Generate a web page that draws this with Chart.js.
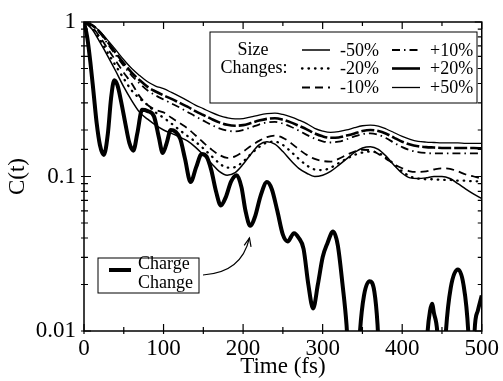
<!DOCTYPE html>
<html>
<head>
<meta charset="utf-8">
<script src="https://cdn.jsdelivr.net/npm/chart.js@4.4.0/dist/chart.umd.min.js"></script>
<style>
  html, body { margin: 0; padding: 0; background: #fff; }
  #grafico { display: block; }
</style>
</head>
<body>
<canvas id="grafico" width="503" height="381"></canvas>
<script>
// time grid (fs) for the size-change curves
const tempos = [0, 10, 20, 30, 40, 50, 60, 70, 80, 90, 100, 110, 120, 130, 140, 150, 160, 170, 180, 190, 200,
  210, 220, 230, 240, 250, 260, 270, 280, 290, 300, 310, 320, 330, 340, 350, 360, 370, 380, 390, 400,
  410, 420, 430, 440, 450, 460, 470, 480, 490, 500];

const menos50 = [1, 0.9, 0.74, 0.6, 0.48, 0.38, 0.31, 0.26, 0.235, 0.215, 0.2, 0.19, 0.18, 0.17, 0.155, 0.138, 0.122, 0.108, 0.102, 0.106, 0.12,
  0.14, 0.16, 0.168, 0.162, 0.145, 0.127, 0.113, 0.105, 0.1, 0.102, 0.108, 0.118, 0.13, 0.143, 0.153, 0.156, 0.15, 0.135, 0.118, 0.105,
  0.098, 0.097, 0.098, 0.1, 0.1, 0.097, 0.09, 0.083, 0.077, 0.072];
const menos20 = [1, 0.92, 0.77, 0.63, 0.52, 0.43, 0.36, 0.32, 0.29, 0.26, 0.24, 0.22, 0.2, 0.183, 0.168, 0.152, 0.136, 0.122, 0.114, 0.115, 0.125,
  0.14, 0.155, 0.166, 0.168, 0.16, 0.145, 0.13, 0.118, 0.111, 0.11, 0.114, 0.122, 0.13, 0.138, 0.143, 0.145, 0.142, 0.132, 0.12, 0.108,
  0.1, 0.097, 0.096, 0.096, 0.095, 0.095, 0.094, 0.094, 0.093, 0.093];
const menos10 = [1, 0.93, 0.8, 0.67, 0.56, 0.47, 0.4, 0.33, 0.29, 0.27, 0.26, 0.24, 0.222, 0.205, 0.185, 0.166, 0.15, 0.138, 0.132, 0.135, 0.145,
  0.158, 0.17, 0.18, 0.184, 0.178, 0.165, 0.15, 0.138, 0.13, 0.126, 0.125, 0.13, 0.138, 0.145, 0.149, 0.148, 0.14, 0.13, 0.12, 0.113,
  0.108, 0.107, 0.108, 0.111, 0.113, 0.112, 0.108, 0.103, 0.1, 0.097];
const mais10 = [1, 0.95, 0.85, 0.72, 0.61, 0.52, 0.45, 0.4, 0.36, 0.335, 0.315, 0.297, 0.28, 0.262, 0.245, 0.23, 0.216, 0.205, 0.198, 0.196, 0.2,
  0.208, 0.217, 0.224, 0.226, 0.22, 0.21, 0.198, 0.186, 0.176, 0.169, 0.166, 0.168, 0.174, 0.182, 0.188, 0.19, 0.186, 0.177, 0.165, 0.155,
  0.148, 0.144, 0.142, 0.141, 0.141, 0.141, 0.141, 0.141, 0.141, 0.141];
const mais20 = [1, 0.955, 0.86, 0.74, 0.63, 0.54, 0.47, 0.42, 0.38, 0.355, 0.335, 0.318, 0.3, 0.283, 0.265, 0.25, 0.236, 0.224, 0.216, 0.213, 0.215,
  0.222, 0.23, 0.236, 0.238, 0.233, 0.224, 0.213, 0.202, 0.19, 0.182, 0.178, 0.179, 0.184, 0.19, 0.197, 0.2, 0.197, 0.189, 0.178, 0.168,
  0.161, 0.157, 0.155, 0.154, 0.153, 0.153, 0.153, 0.153, 0.153, 0.152];
const mais50 = [1, 0.96, 0.87, 0.76, 0.66, 0.57, 0.5, 0.45, 0.41, 0.385, 0.37, 0.35, 0.33, 0.31, 0.29, 0.275, 0.26, 0.248, 0.24, 0.236, 0.237,
  0.243, 0.25, 0.255, 0.257, 0.252, 0.243, 0.232, 0.22, 0.205, 0.197, 0.193, 0.195, 0.2, 0.207, 0.213, 0.215, 0.212, 0.203, 0.192, 0.182,
  0.174, 0.169, 0.167, 0.166, 0.165, 0.165, 0.165, 0.164, 0.164, 0.164];

// charge change curve, own time samples
const tempoCarga = [0, 4, 8, 12, 16, 20, 25, 30, 34, 38, 42, 47, 52, 57, 62, 67, 73, 80, 88, 94, 99, 104, 109, 115, 121, 127, 134,
  141, 148, 154, 160, 166, 172, 178, 185, 192, 198, 203, 209, 215, 222, 230, 236, 243, 250, 256, 264, 270, 276, 282, 288,
  294, 300, 306, 313, 319, 325, 330, 335, 343, 347, 352, 359, 365, 369, 373, 428, 432, 435, 437.5, 440, 444, 448, 451,
  455, 461, 470, 477, 483, 486, 489, 491, 495, 500];
const carga = [1, 0.8, 0.55, 0.35, 0.22, 0.16, 0.138, 0.19, 0.32, 0.42, 0.39, 0.3, 0.22, 0.165, 0.147, 0.19, 0.27, 0.265, 0.245, 0.18, 0.142, 0.165, 0.2, 0.195, 0.175, 0.13, 0.092,
  0.115, 0.14, 0.135, 0.11, 0.08, 0.065, 0.073, 0.093, 0.102, 0.085, 0.06, 0.048, 0.055, 0.075, 0.092, 0.083, 0.06, 0.042, 0.038, 0.043, 0.04, 0.034, 0.02, 0.014,
  0.02, 0.03, 0.037, 0.044, 0.036, 0.02, 0.011, 0.004, 0.004, 0.01, 0.017, 0.021, 0.018, 0.011, 0.004, 0.004, 0.01, 0.0135, 0.015, 0.013, 0.01, 0.004, 0.004,
  0.01, 0.019, 0.025, 0.02, 0.01, 0.004, 0.004, 0.01, 0.0135, 0.017];

const ticksX = [0, 100, 200, 300, 400, 500];
const ticksXMenores = [50, 150, 250, 350, 450];
const ticksY = [1, 0.1, 0.01];

const fonte = 'Liberation Serif, Times New Roman, serif';

function pontos(xs, ys) {
  return xs.map((x, i) => ({ x: x, y: ys[i] }));
}

const series = [
  { label: '-50%', data: menos50, width: 1.5, dash: [], col: 0, row: 0 },
  { label: '-20%', data: menos20, width: 2.3, dash: [0.5, 6], cap: 'round', col: 0, row: 1 },
  { label: '-10%', data: menos10, width: 1.8, dash: [8, 5], col: 0, row: 2 },
  { label: '+10%', data: mais10, width: 1.8, dash: [8, 4, 1.5, 4], col: 1, row: 0 },
  { label: '+20%', data: mais20, width: 2.6, dash: [13, 3], legendDash: [], col: 1, row: 1 },
  { label: '+50%', data: mais50, width: 1.3, dash: [], col: 1, row: 2 }
];

const datasets = series.map(s => ({
  label: s.label,
  data: pontos(tempos, s.data),
  borderColor: '#000',
  borderWidth: s.width,
  borderDash: s.dash,
  borderCapStyle: s.cap || 'butt',
  cubicInterpolationMode: 'monotone',
  pointRadius: 0,
  fill: false,
  clip: 0
}));
datasets.push({
  label: 'Charge Change',
  data: pontos(tempoCarga, carga),
  borderColor: '#000',
  borderWidth: 4,
  borderJoinStyle: 'round',
  cubicInterpolationMode: 'monotone',
  pointRadius: 0,
  fill: false,
  clip: 0
});

function ehMaior(v) {
  return ticksY.some(t => Math.abs(Math.log10(t) - Math.log10(v)) < 1e-6);
}

// frame, inward ticks, legends and the arrow
const moldura = {
  id: 'moldura',
  afterDatasetsDraw(chart) {
    const { ctx, chartArea: a, scales: { x, y } } = chart;
    ctx.save();
    ctx.strokeStyle = '#000';
    ctx.lineWidth = 1.5;
    ctx.setLineDash([]);
    ctx.strokeRect(a.left, a.top, a.right - a.left, a.bottom - a.top);

    ctx.lineWidth = 1.2;
    y.ticks.forEach(t => {
      const py = y.getPixelForValue(t.value);
      const len = ehMaior(t.value) ? 7 : 4;
      ctx.beginPath();
      ctx.moveTo(a.left - 3, py); ctx.lineTo(a.left + len, py);
      ctx.moveTo(a.right - len, py); ctx.lineTo(a.right, py);
      ctx.stroke();
    });
    ticksX.concat(ticksXMenores).forEach(v => {
      const px = x.getPixelForValue(v);
      const len = ticksX.includes(v) ? 7 : 4;
      ctx.beginPath();
      ctx.moveTo(px, a.bottom + 3); ctx.lineTo(px, a.bottom - len);
      ctx.moveTo(px, a.top); ctx.lineTo(px, a.top + len);
      ctx.stroke();
    });

    // size-change legend
    const bx = a.left + 126, by = a.top + 10, bw = 267, bh = 71;
    ctx.fillStyle = '#fff';
    ctx.fillRect(bx, by, bw, bh);
    ctx.lineWidth = 1;
    ctx.strokeRect(bx, by, bw, bh);
    ctx.fillStyle = '#000';
    ctx.font = '18px ' + fonte;
    ctx.textBaseline = 'middle';
    ctx.textAlign = 'center';
    const filas = [by + 18, by + 36.5, by + 55.5];
    ctx.fillText('Size', bx + 43, filas[0]);
    ctx.fillText('Changes:', bx + 44, filas[1]);
    ctx.textAlign = 'left';
    const colunas = [bx + 92, bx + 182];
    series.forEach(s => {
      const cx = colunas[s.col], cy = filas[s.row];
      ctx.beginPath();
      ctx.lineWidth = s.width;
      ctx.lineCap = s.cap || 'butt';
      ctx.setLineDash(s.legendDash || s.dash);
      ctx.moveTo(cx, cy); ctx.lineTo(cx + 28, cy);
      ctx.stroke();
      ctx.setLineDash([]);
      ctx.lineCap = 'butt';
      ctx.fillText(s.label, cx + 38, cy + 1);
    });

    // charge-change legend
    const cx0 = a.left + 14, cy0 = a.bottom - 73, cw = 101, ch = 35;
    ctx.fillStyle = '#fff';
    ctx.fillRect(cx0, cy0, cw, ch);
    ctx.lineWidth = 1;
    ctx.strokeRect(cx0, cy0, cw, ch);
    ctx.fillStyle = '#000';
    ctx.lineWidth = 4;
    ctx.beginPath();
    ctx.moveTo(cx0 + 11, cy0 + 12); ctx.lineTo(cx0 + 33, cy0 + 12);
    ctx.stroke();
    ctx.fillText('Charge', cx0 + 40, cy0 + 6);
    ctx.fillText('Change', cx0 + 40, cy0 + 25);

    // arrow to the dip near 210 fs
    const sx = cx0 + cw + 4, sy = cy0 + 17;
    const tx = x.getPixelForValue(208), ty = y.getPixelForValue(0.04);
    const kx = tx - 8, ky = sy - 2;
    ctx.lineWidth = 1.2;
    ctx.beginPath();
    ctx.moveTo(sx, sy);
    ctx.quadraticCurveTo(kx, ky, tx, ty);
    ctx.stroke();
    const ang = Math.atan2(ty - ky, tx - kx);
    ctx.beginPath();
    ctx.moveTo(tx - 9 * Math.cos(ang - 0.4), ty - 9 * Math.sin(ang - 0.4));
    ctx.lineTo(tx, ty);
    ctx.lineTo(tx - 9 * Math.cos(ang + 0.4), ty - 9 * Math.sin(ang + 0.4));
    ctx.stroke();
    ctx.restore();
  }
};

new Chart(document.getElementById('grafico').getContext('2d'), {
  type: 'line',
  data: { datasets: datasets },
  options: {
    responsive: false,
    animation: false,
    layout: { padding: { top: 22, right: 19, left: 0, bottom: 0 } },
    plugins: { legend: { display: false }, tooltip: { enabled: false } },
    scales: {
      x: {
        type: 'linear',
        min: 0,
        max: 500,
        afterFit: s => { s.height = 50; },
        afterBuildTicks: s => { s.ticks = ticksX.map(v => ({ value: v })); },
        grid: { display: false, drawTicks: false },
        border: { display: false },
        ticks: { color: '#000', font: { family: fonte, size: 23 }, padding: 4, maxRotation: 0, autoSkip: false },
        title: { display: true, text: 'Time (fs)', color: '#000', font: { family: fonte, size: 23 }, padding: { top: 0, bottom: 0 } }
      },
      y: {
        type: 'logarithmic',
        min: 0.01,
        max: 1,
        afterFit: s => { s.width = 84; },
        grid: { display: false, drawTicks: false },
        border: { display: false },
        ticks: {
          color: '#000',
          font: { family: fonte, size: 23 },
          padding: 8,
          autoSkip: false,
          callback: v => {
            const t = ticksY.find(k => Math.abs(Math.log10(k) - Math.log10(v)) < 1e-6);
            return t === undefined ? '' : String(t);
          }
        },
        title: { display: true, text: 'C(t)', color: '#000', font: { family: fonte, size: 23 }, padding: { top: 4, bottom: 0 } }
      }
    }
  },
  plugins: [moldura]
});
</script>
</body>
</html>
